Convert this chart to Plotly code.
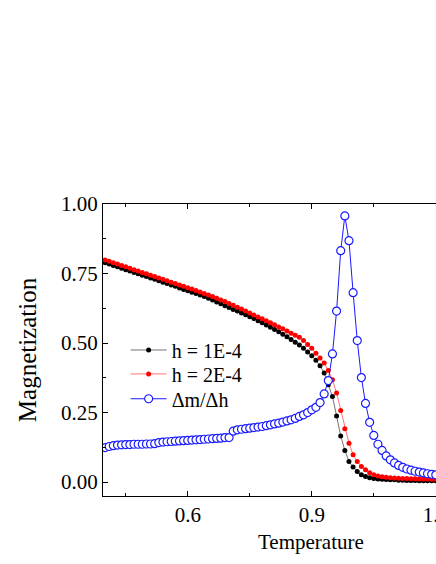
import plotly.graph_objects as go

# temperature grid (step 0.01)
temperature = [round(0.40 + 0.01 * i, 2) for i in range(81)]

mag_h1 = [
    0.789, 0.784, 0.779, 0.774, 0.769, 0.764, 0.759, 0.754, 0.749, 0.744,
    0.739, 0.734, 0.729, 0.724, 0.719, 0.714, 0.709, 0.704, 0.698, 0.693,
    0.688, 0.683, 0.678, 0.673, 0.667, 0.661, 0.655, 0.648, 0.641, 0.634,
    0.628, 0.621, 0.615, 0.608, 0.602, 0.595, 0.588, 0.580, 0.573, 0.565,
    0.557, 0.549, 0.541, 0.532, 0.523, 0.513, 0.503, 0.493, 0.481, 0.468,
    0.454, 0.438, 0.418, 0.392, 0.350, 0.308, 0.238, 0.166, 0.114, 0.074,
    0.054, 0.038, 0.026, 0.020, 0.016, 0.013, 0.011, 0.010, 0.009, 0.008,
    0.008, 0.007, 0.007, 0.006, 0.006, 0.006, 0.005, 0.005, 0.005, 0.005,
    0.005,
]

mag_h2 = [
    0.799, 0.794, 0.789, 0.784, 0.779, 0.774, 0.769, 0.764, 0.759, 0.754,
    0.749, 0.744, 0.739, 0.734, 0.729, 0.724, 0.719, 0.714, 0.709, 0.704,
    0.699, 0.694, 0.689, 0.684, 0.678, 0.673, 0.667, 0.661, 0.655, 0.649,
    0.642, 0.636, 0.629, 0.622, 0.615, 0.608, 0.601, 0.594, 0.587, 0.580,
    0.573, 0.566, 0.558, 0.551, 0.543, 0.535, 0.528, 0.521, 0.509, 0.495,
    0.481, 0.463, 0.446, 0.428, 0.401, 0.368, 0.320, 0.257, 0.192, 0.140,
    0.098, 0.074, 0.056, 0.044, 0.034, 0.026, 0.022, 0.019, 0.017, 0.016,
    0.015, 0.014, 0.013, 0.013, 0.012, 0.012, 0.011, 0.011, 0.011, 0.010,
    0.010,
]

dm_dh = [
    0.124, 0.128, 0.131, 0.133, 0.134, 0.135, 0.135, 0.136, 0.136, 0.136,
    0.137, 0.137, 0.138, 0.142, 0.144, 0.145, 0.146, 0.147, 0.148, 0.149,
    0.150, 0.151, 0.152, 0.153, 0.154, 0.155, 0.156, 0.157, 0.158, 0.160,
    0.160, 0.183, 0.188, 0.190, 0.192, 0.194, 0.196, 0.198, 0.200, 0.203,
    0.206, 0.209, 0.212, 0.216, 0.220, 0.224, 0.229, 0.236, 0.242, 0.250,
    0.260, 0.269, 0.286, 0.317, 0.365, 0.461, 0.615, 0.832, 0.957, 0.868,
    0.681, 0.509, 0.376, 0.283, 0.215, 0.168, 0.136, 0.114, 0.094, 0.080,
    0.069, 0.060, 0.053, 0.047, 0.043, 0.039, 0.036, 0.033, 0.030, 0.028,
    0.026,
]

x_ticks = [0.6, 0.9, 1.2]
x_ticktext = ["0.6", "0.9", "1.2"]
y_ticks = [0.0, 0.25, 0.5, 0.75, 1.0]
y_ticktext = ["0.00", "0.25", "0.50", "0.75", "1.00"]

FONT = "Liberation Serif"

fig = go.Figure()
fig.add_trace(go.Scatter(
    x=temperature, y=mag_h1, mode="lines+markers", name="h = 1E-4",
    line=dict(color="rgba(0,0,0,0.55)", width=1),
    marker=dict(color="black", size=5, symbol="circle"),
    legend="legend", showlegend=True,
))
fig.add_trace(go.Scatter(
    x=temperature, y=mag_h2, mode="lines+markers", name="h = 2E-4",
    line=dict(color="rgba(255,0,0,0.55)", width=1),
    marker=dict(color="red", size=5, symbol="circle"),
    legend="legend2", showlegend=True,
))
fig.add_trace(go.Scatter(
    x=temperature, y=dm_dh, mode="lines+markers", name="Δm/Δh",
    line=dict(color="#1a1aff", width=1),
    marker=dict(color="white", size=8, symbol="circle",
                line=dict(color="#1a1aff", width=1.2)),
    legend="legend3", showlegend=True,
))

# one legend per entry so the rows can sit as close as in the original
leg = dict(x=0.068, xanchor="left", yanchor="middle",
           bgcolor="rgba(0,0,0,0)", font=dict(size=20), itemwidth=36)

fig.update_layout(
    width=436, height=564, showlegend=True,
    margin=dict(l=103, r=0, t=204, b=68, autoexpand=False),
    paper_bgcolor="white", plot_bgcolor="white",
    font=dict(family=FONT, size=21, color="black"),
    legend=dict(leg, y=0.50),
    legend2=dict(leg, y=0.418),
    legend3=dict(leg, y=0.333),
    annotations=[dict(text="Temperature", xref="paper", yref="paper",
                      x=0.626, y=-0.158, xanchor="center", yanchor="middle",
                      showarrow=False, font=dict(size=21))],
)
fig.update_xaxes(
    range=[0.395, 1.2005], tickvals=x_ticks, ticktext=x_ticktext,
    ticks="inside", ticklen=5, tickwidth=1.2, tickcolor="black",
    ticklabeloverflow="allow",
    minor=dict(tickvals=[0.45, 0.75, 1.05], ticks="inside", ticklen=3,
               tickwidth=1.2, tickcolor="black"),
    showline=True, linecolor="black", linewidth=1.3, mirror="ticks",
    showgrid=False, zeroline=False, automargin=False,
)
fig.update_yaxes(
    range=[-0.05, 1.0], tickvals=y_ticks, ticktext=y_ticktext,
    ticks="inside", ticklen=5, tickwidth=1.2, tickcolor="black",
    minor=dict(tickvals=[0.125, 0.375, 0.625, 0.875], ticks="inside",
               ticklen=3, tickwidth=1.2, tickcolor="black"),
    showline=True, linecolor="black", linewidth=1.3, mirror=False,
    showgrid=False, zeroline=False, automargin=False,
    title=dict(text="Magnetization", standoff=17),
)

# drop the default page margin so the figure sits at the window origin
fig.write_html("out.html", config={"displayModeBar": False},
               post_script="document.body.style.margin='0';"
                           "document.body.style.overflow='hidden';")
